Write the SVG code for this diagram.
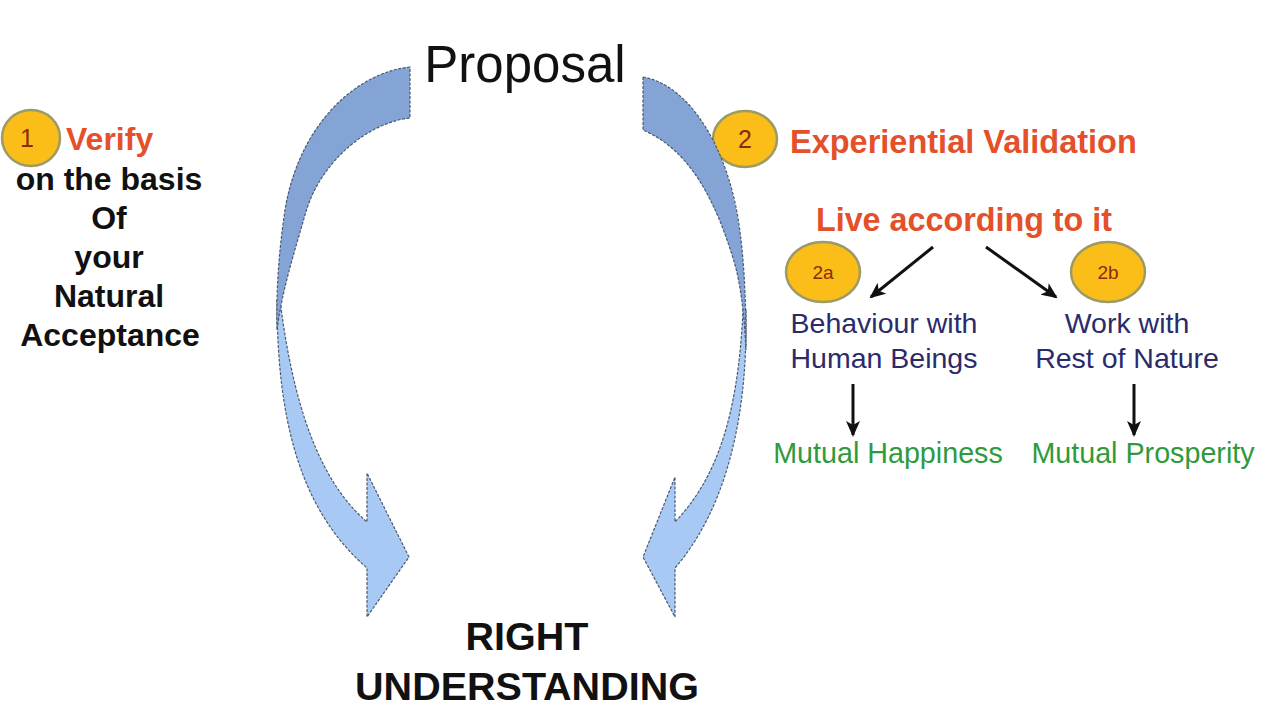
<svg xmlns="http://www.w3.org/2000/svg" width="1271" height="706" viewBox="0 0 1271 706">
<defs>
<marker id="ah" markerWidth="16" markerHeight="14" refX="14" refY="7" orient="auto" markerUnits="userSpaceOnUse">
<path d="M0,0 L16,7 L0,14 L4,7 Z" fill="#111"/>
</marker>
<style>
.sans{font-family:"Liberation Sans",Arial,sans-serif}
.badge{fill:#fbbd17;stroke:#9c9a66;stroke-width:2.5}
.num{font-family:"Liberation Sans",Arial,sans-serif;fill:#8a2c10;text-anchor:middle}
.dark{fill:#84a4d6;stroke:#4a5a70;stroke-width:1.2;stroke-dasharray:3 1.5}
.light{fill:#a8c9f3;stroke:#4a5a70;stroke-width:1.2;stroke-dasharray:3 1.5}
.red{fill:#e4502a;font-weight:bold}
.blk{fill:#111;font-weight:bold}
.navy{fill:#2b2b6b}
.green{fill:#2f9a3c}
.conn{stroke:#111;stroke-width:3;fill:none;marker-end:url(#ah)}
</style>
</defs>
<rect width="1271" height="706" fill="#fff"/>

<g id="badge2">
<ellipse class="badge" cx="745" cy="139" rx="32" ry="28"/>
<text class="num" x="745" y="148" font-size="25">2</text>
</g>

<g id="arrow-left">
<path class="light" d="M277,300 C277,420 300,510 367,568 L367,617 L409,557 L367,473 L367,522 C330,490 296,430 280,300 Z"/>
<path class="dark" d="M410,67 C360,72 300,120 285,210 C279,250 276,290 277,330 C282,290 295,250 305,215 C320,160 370,122 410,118 Z"/>
</g>
<g id="arrow-right">
<path class="light" d="M746,310 C748,420 725,510 675,568 L675,617 L643,557 L675,477 L675,522 C715,480 738,420 743,310 Z"/>
<path class="dark" d="M643,77 C690,85 730,150 740,232 C745,270 746,310 746,350 C744,310 740,280 733,258 C715,200 690,150 643,130 Z"/>
</g>

<g id="proposal">
<text class="sans" x="525" y="82" font-size="51" text-anchor="middle" fill="#111">Proposal</text>
</g>

<g id="step1">
<ellipse class="badge" cx="31" cy="138" rx="29" ry="28"/>
<text class="num" x="27" y="147" font-size="25">1</text>
<text class="sans red" x="66" y="150" font-size="32">Verify</text>
<text class="sans blk" x="109" y="190" font-size="32" text-anchor="middle">on the basis</text>
<text class="sans blk" x="109" y="229" font-size="32" text-anchor="middle">Of</text>
<text class="sans blk" x="109" y="268" font-size="32" text-anchor="middle">your</text>
<text class="sans blk" x="109" y="307" font-size="32" text-anchor="middle">Natural</text>
<text class="sans blk" x="110" y="346" font-size="32" text-anchor="middle">Acceptance</text>
</g>

<g id="step2">
<text class="sans red" x="790" y="153" font-size="32.5">Experiential Validation</text>
</g>

<g id="live">
<text class="sans red" x="964" y="231" font-size="32.3" text-anchor="middle">Live according to it</text>
</g>

<g id="node2a">
<ellipse class="badge" cx="823" cy="272" rx="37" ry="30"/>
<text class="num" x="823" y="279" font-size="19">2a</text>
<text class="sans navy" x="884" y="333" font-size="28.5" text-anchor="middle">Behaviour with</text>
<text class="sans navy" x="884" y="368" font-size="28.5" text-anchor="middle">Human Beings</text>
</g>

<g id="node2b">
<ellipse class="badge" cx="1108" cy="272" rx="37" ry="30"/>
<text class="num" x="1108" y="279" font-size="19">2b</text>
<text class="sans navy" x="1127" y="333" font-size="28.5" text-anchor="middle">Work with</text>
<text class="sans navy" x="1127" y="368" font-size="28.5" text-anchor="middle">Rest of Nature</text>
</g>

<g id="happiness">
<text class="sans green" x="888" y="463" font-size="28.7" text-anchor="middle">Mutual Happiness</text>
</g>
<g id="prosperity">
<text class="sans green" x="1143" y="463" font-size="28.7" text-anchor="middle">Mutual Prosperity</text>
</g>

<g id="right-understanding">
<text class="sans blk" x="527" y="650" font-size="39.5" text-anchor="middle">RIGHT</text>
<text class="sans blk" x="527" y="700" font-size="39.5" text-anchor="middle">UNDERSTANDING</text>
</g>

<g id="connectors">
<line class="conn" x1="933" y1="247" x2="871" y2="297"/>
<line class="conn" x1="986" y1="247" x2="1056" y2="297"/>
<line class="conn" x1="853" y1="384" x2="853" y2="435"/>
<line class="conn" x1="1134" y1="384" x2="1134" y2="435"/>
</g>
</svg>
